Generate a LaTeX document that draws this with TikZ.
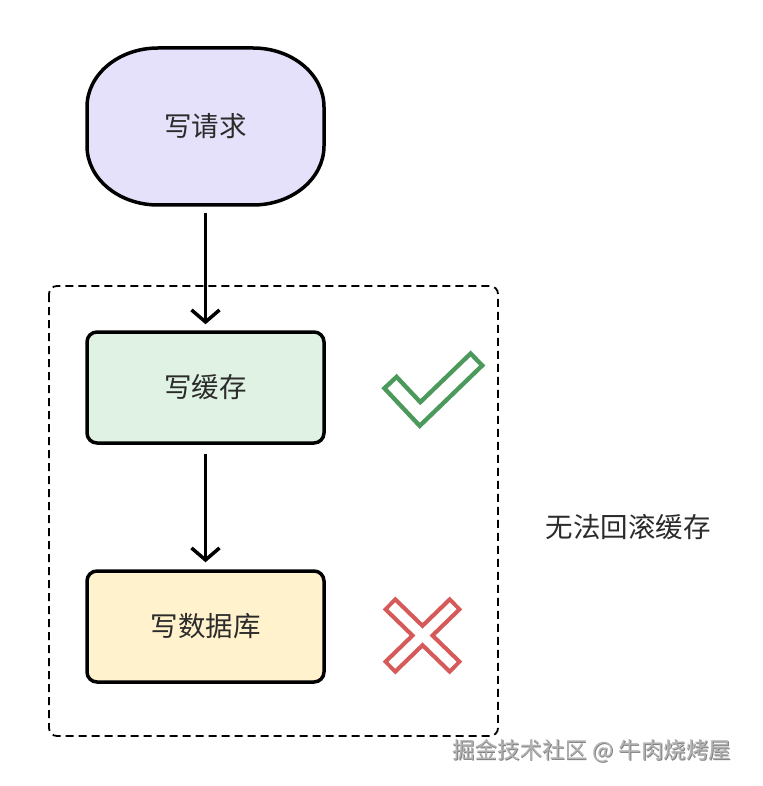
\documentclass[tikz,border=0pt]{standalone}
\usepackage{fontspec}
\newfontfamily\cjk{Noto Sans CJK SC}
\usetikzlibrary{arrows.meta}
\definecolor{lav}{HTML}{E6E1FA}
\definecolor{mint}{HTML}{DFF2E3}
\definecolor{cream}{HTML}{FFF2CC}
\definecolor{okgreen}{HTML}{4C995C}
\definecolor{badred}{HTML}{D65A5A}
\definecolor{ink}{HTML}{2B2B2B}
\tikzset{
  lbl/.style={font=\cjk\fontsize{27.5}{30}\selectfont, text=ink},
  procbox/.style={draw=black, line width=3.5pt, rounded corners=10pt, minimum width=237pt, minimum height=111pt, lbl},
  flow/.style={draw=black, line width=3.5pt, -{Straight Barb[length=12pt,width=28pt,line width=3.5pt]}},
  grp/.style={draw=black, line width=1.8pt, dash pattern=on 8pt off 5pt, rounded corners=8pt},
}
\begin{document}
\begin{tikzpicture}[x=1pt,y=1pt]
\useasboundingbox (0,0) rectangle (762,-786);
\fill[white] (0,0) rectangle (762,-786);
% group
\draw[grp] (49,-286) rectangle (498,-736);
% start terminal
\node[lbl, minimum width=237pt, minimum height=157pt] (req) at (205.5,-126.5) {写请求};
\draw[line width=3.5pt, fill=lav] (158,-48) -- (253,-48)
  arc[start angle=90,end angle=0,x radius=71,y radius=59] -- (324,-146)
  arc[start angle=0,end angle=-90,x radius=71,y radius=59] -- (158,-205)
  arc[start angle=270,end angle=180,x radius=71,y radius=59] -- (87,-107)
  arc[start angle=180,end angle=90,x radius=71,y radius=59] -- cycle;
\node[lbl] at (req.center) {写请求};
% boxes
\node[procbox, fill=mint] (cache) at (205.5,-387.5) {写缓存};
\node[procbox, fill=cream] (db) at (205.5,-626.5) {写数据库};
% arrows
\draw[flow, shorten <=8pt, shorten >=6pt] (req.south) -- (cache.north);
\draw[flow, shorten <=9pt, shorten >=7pt] (cache.south) -- (db.north);
% note
\node[lbl] (note) at (628,-527) {无法回滚缓存};
% check mark
\draw[okgreen, line width=21pt, line cap=butt, line join=miter] (389,-381) -- (420,-414) -- (478,-358);
\draw[white, line width=12pt, line cap=butt, line join=miter, shorten <=4.5pt, shorten >=4.5pt] (389,-381) -- (420,-414) -- (478,-358);
% cross
\draw[badred, line width=18pt, line cap=butt] (389,-603) -- (456,-668) (456,-603) -- (389,-668);
\draw[white, line width=9.5pt, line cap=butt, shorten <=4pt, shorten >=4pt] (389,-603) -- (456,-668);
\draw[white, line width=9.5pt, line cap=butt, shorten <=4pt, shorten >=4pt] (456,-603) -- (389,-668);
% watermark
\node[font=\cjk\fontsize{22.5}{24}\selectfont, text=black!50] at (592.8,-751.8) {掘金技术社区 @ 牛肉烧烤屋};
\node[font=\cjk\fontsize{22.5}{24}\selectfont, text=black!30] (wm) at (592,-751) {掘金技术社区 @ 牛肉烧烤屋};
\end{tikzpicture}
\end{document}
